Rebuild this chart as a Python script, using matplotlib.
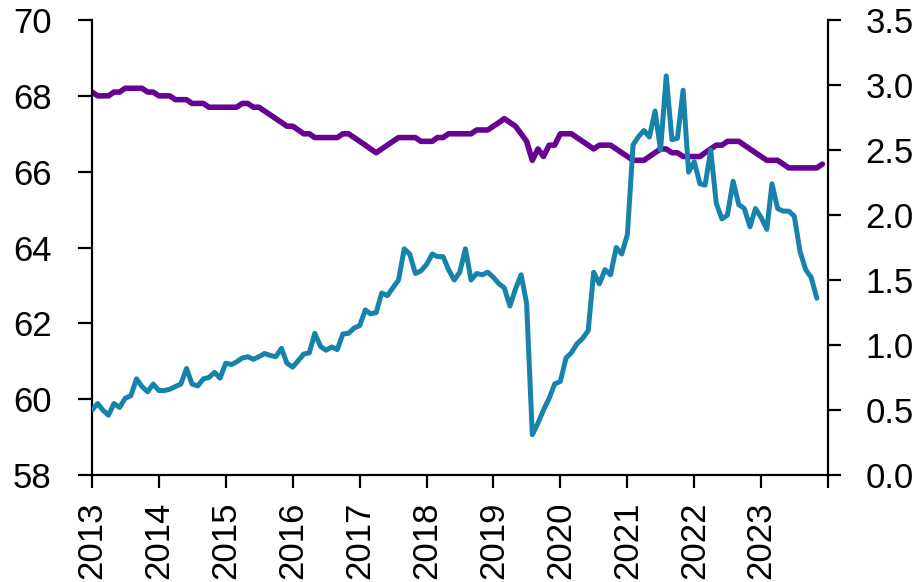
import numpy as np
import pandas as pd
import matplotlib as mpl
mpl.use('Agg')
import matplotlib.pyplot as plt

plt.rcParams['font.family'] = ['Liberation Sans', 'DejaVu Sans']

# monthly series, Jan 2013 onwards
purple_vals = [
    68.1, 68.0, 68.0, 68.0, 68.1, 68.1, 68.2, 68.2, 68.2, 68.2, 68.1, 68.1,  # 2013
    68.0, 68.0, 68.0, 67.9, 67.9, 67.9, 67.8, 67.8, 67.8, 67.7, 67.7, 67.7,  # 2014
    67.7, 67.7, 67.7, 67.8, 67.8, 67.7, 67.7, 67.6, 67.5, 67.4, 67.3, 67.2,  # 2015
    67.2, 67.1, 67.0, 67.0, 66.9, 66.9, 66.9, 66.9, 66.9, 67.0, 67.0, 66.9,  # 2016
    66.8, 66.7, 66.6, 66.5, 66.6, 66.7, 66.8, 66.9, 66.9, 66.9, 66.9, 66.8,  # 2017
    66.8, 66.8, 66.9, 66.9, 67.0, 67.0, 67.0, 67.0, 67.0, 67.1, 67.1, 67.1,  # 2018
    67.2, 67.3, 67.4, 67.3, 67.2, 67.0, 66.8, 66.3, 66.6, 66.4, 66.7, 66.7,  # 2019
    67.0, 67.0, 67.0, 66.9, 66.8, 66.7, 66.6, 66.7, 66.7, 66.7, 66.6, 66.5,  # 2020
    66.4, 66.3, 66.3, 66.3, 66.4, 66.5, 66.6, 66.6, 66.5, 66.5, 66.4, 66.4,  # 2021
    66.4, 66.4, 66.5, 66.6, 66.7, 66.7, 66.8, 66.8, 66.8, 66.7, 66.6, 66.5,  # 2022
    66.4, 66.3, 66.3, 66.3, 66.2, 66.1, 66.1, 66.1, 66.1, 66.1, 66.1, 66.2,  # 2023
]

teal_vals = [
    0.50, 0.55, 0.50, 0.46, 0.55, 0.52, 0.59, 0.61, 0.74, 0.68, 0.64, 0.70,  # 2013
    0.65, 0.65, 0.66, 0.68, 0.70, 0.82, 0.70, 0.685, 0.74, 0.75, 0.79, 0.745,  # 2014
    0.86, 0.85, 0.87, 0.90, 0.91, 0.89, 0.91, 0.935, 0.92, 0.91, 0.975, 0.86,  # 2015
    0.83, 0.88, 0.93, 0.94, 1.09, 0.99, 0.96, 0.985, 0.965, 1.085, 1.09, 1.13,  # 2016
    1.15, 1.27, 1.24, 1.25, 1.40, 1.38, 1.44, 1.50, 1.74, 1.70, 1.55, 1.57,  # 2017
    1.62, 1.70, 1.68, 1.68, 1.58, 1.50, 1.56, 1.74, 1.50, 1.55, 1.54, 1.56,  # 2018
    1.52, 1.47, 1.44, 1.30, 1.43, 1.54, 1.32, 0.31, 0.40, 0.50, 0.59, 0.70,  # 2019
    0.72, 0.90, 0.94, 1.01, 1.05, 1.11, 1.56, 1.47, 1.58, 1.54, 1.75, 1.70,  # 2020
    1.85, 2.54, 2.60, 2.65, 2.60, 2.80, 2.50, 3.07, 2.58, 2.59, 2.96, 2.33,  # 2021
    2.41, 2.24, 2.23, 2.50, 2.09, 1.97, 2.00, 2.26, 2.08, 2.05, 1.91, 2.05,  # 2022
    1.98, 1.89, 2.24, 2.05, 2.03, 2.03, 1.99, 1.72, 1.58, 1.52, 1.36,  # 2023
]

years = list(range(2013, 2025))
year_labels = [str(y) for y in range(2013, 2024)] + ['']
left_ticks = [58, 60, 62, 64, 66, 68, 70]
right_ticks = [0.0, 0.5, 1.0, 1.5, 2.0, 2.5, 3.0, 3.5]

purple_dates = pd.date_range('2013-01-01', periods=len(purple_vals), freq='MS')
teal_dates = pd.date_range('2013-01-01', periods=len(teal_vals), freq='MS')

fig = plt.figure(figsize=(9.18, 5.82), dpi=100, facecolor='w')
ax = fig.add_axes([0.1002, 0.1838, 0.8018, 0.7818])
ax2 = ax.twinx()

ax.plot(purple_dates, purple_vals, color='#660392', lw=4.0, solid_capstyle='round')
ax2.plot(teal_dates, teal_vals, color='#1783AA', lw=3.6, solid_capstyle='round')

ax.set_xlim(pd.Timestamp('2013-01-01'), pd.Timestamp('2024-01-01'))
ax.set_ylim(58, 70)
ax2.set_ylim(0, 3.5)
ax.set_yticks(left_ticks)
ax.set_yticklabels([str(v) for v in left_ticks])
ax2.set_yticks(right_ticks)
ax2.set_yticklabels(['%.1f' % v for v in right_ticks])

ax.set_xticks([pd.Timestamp('%d-01-01' % y) for y in years])
ax.set_xticklabels(year_labels, rotation=90)

for a in (ax, ax2):
    a.spines['top'].set_visible(False)
    for s in ('left', 'right', 'bottom'):
        a.spines[s].set_linewidth(1.6)
ax.spines['right'].set_visible(False)
ax2.spines['left'].set_visible(False)
ax2.spines['bottom'].set_visible(False)

ax.tick_params(axis='y', direction='out', length=10, width=1.6, labelsize=25, pad=19)
ax.tick_params(axis='x', direction='out', length=9, width=1.6, labelsize=25, pad=10)
ax2.tick_params(axis='y', direction='out', length=9, width=1.6, labelsize=25, pad=18)

plt.savefig('out.png', dpi=100)
